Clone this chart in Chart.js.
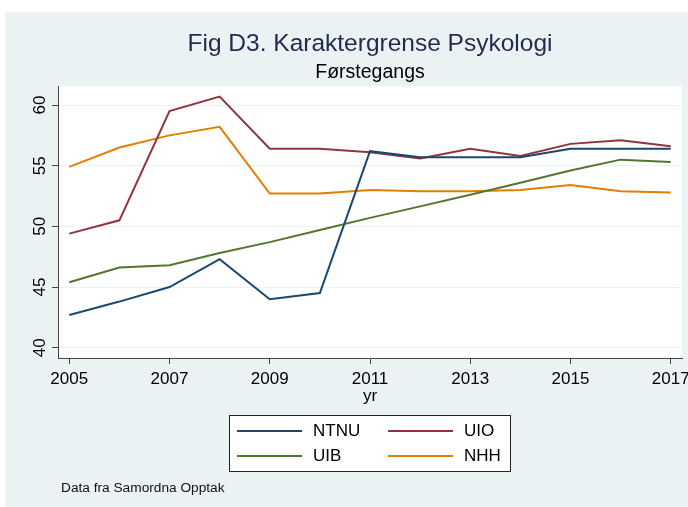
<!DOCTYPE html>
<html>
<head>
<meta charset="utf-8">
<title>Fig D3. Karaktergrense Psykologi</title>
<script src="https://cdn.jsdelivr.net/npm/chart.js@4.4.1/dist/chart.umd.min.js"></script>
<style>
  html, body { margin: 0; padding: 0; background: #ffffff; }
  canvas { display: block; }
</style>
</head>
<body>
<canvas id="chart" width="688" height="507"></canvas>
<script>
// data
const years = [2005, 2006, 2007, 2008, 2009, 2010, 2011, 2012, 2013, 2014, 2015, 2016, 2017];
const ntnu = [42.7, 43.8, 45.0, 47.3, 44.0, 44.5, 56.2, 55.7, 55.7, 55.7, 56.4, 56.4, 56.4];
const uio  = [49.4, 50.5, 59.5, 60.7, 56.4, 56.4, 56.1, 55.6, 56.4, 55.8, 56.8, 57.1, 56.6];
const uib  = [45.4, 46.6, 46.8, 47.8, 48.7, 49.7, 50.7, 51.65, 52.6, 53.6, 54.6, 55.5, 55.3];
const nhh  = [54.9, 56.5, 57.5, 58.2, 52.7, 52.7, 53.0, 52.9, 52.9, 53.0, 53.4, 52.9, 52.8];

const xTicks = [2005, 2007, 2009, 2011, 2013, 2015, 2017];
const yTicks = [40, 45, 50, 55, 60];

const BG = '#eaf2f3';
const FONT = "'Liberation Sans', Arial, sans-serif";
Chart.defaults.font.family = FONT;
Chart.defaults.color = '#000000';

const toPoints = vals => years.map((yr, i) => ({ x: yr, y: vals[i] }));

function series(label, vals, color) {
    return {
        label: label,
        data: toPoints(vals),
        borderColor: color,
        backgroundColor: color,
        borderWidth: 2,
        pointRadius: 0,
        tension: 0
    };
}

// panel background, white plot region, legend box and note
const stataFrame = {
    id: 'stataFrame',
    beforeDraw(chart) {
        const { ctx, chartArea: a } = chart;
        ctx.save();
        ctx.fillStyle = '#ffffff';
        ctx.fillRect(0, 0, chart.width, chart.height);
        ctx.fillStyle = BG;
        ctx.fillRect(5, 12, chart.width - 5, chart.height - 12);
        ctx.fillStyle = '#ffffff';
        ctx.fillRect(a.left, a.top, a.right - a.left, a.bottom - a.top);
        ctx.restore();
    },
    afterDraw(chart) {
        const ctx = chart.ctx;
        ctx.save();
        // legend
        ctx.fillStyle = '#ffffff';
        ctx.fillRect(229.5, 415.5, 281, 56);
        ctx.strokeStyle = '#222222';
        ctx.lineWidth = 1;
        ctx.strokeRect(229.5, 415.5, 281, 56);
        ctx.font = '17px ' + FONT;
        ctx.textBaseline = 'middle';
        chart.data.datasets.forEach((ds, i) => {
            const col = i % 2, row = Math.floor(i / 2);
            const x0 = 237 + col * 151;
            const y = 431 + row * 25;
            ctx.strokeStyle = ds.borderColor;
            ctx.lineWidth = 2;
            ctx.beginPath();
            ctx.moveTo(x0, y);
            ctx.lineTo(x0 + 65, y);
            ctx.stroke();
            ctx.fillStyle = '#000000';
            ctx.fillText(ds.label, x0 + 76, y);
        });
        // source note
        ctx.font = '13.7px ' + FONT;
        ctx.textBaseline = 'alphabetic';
        ctx.fillStyle = '#111111';
        ctx.fillText('Data fra Samordna Opptak', 61, 492);
        ctx.restore();
    }
};

new Chart(document.getElementById('chart'), {
    type: 'line',
    data: {
        datasets: [
            series('NTNU', ntnu, '#1a476f'),
            series('UIO', uio, '#90353b'),
            series('UIB', uib, '#55752f'),
            series('NHH', nhh, '#e37e00')
        ]
    },
    options: {
        responsive: false,
        animation: false,
        layout: { padding: { left: 5, right: 6, top: 0, bottom: 99 } },
        plugins: {
            legend: { display: false },
            tooltip: { enabled: false },
            title: {
                display: true,
                text: 'Fig D3. Karaktergrense Psykologi',
                fullSize: false,
                color: '#1f2c4c',
                font: { size: 24.5, weight: 'normal' },
                padding: { top: 29.5, bottom: 1.9 }
            },
            subtitle: {
                display: true,
                text: 'Førstegangs',
                fullSize: false,
                color: '#000000',
                font: { size: 19.5, weight: 'normal' },
                padding: { top: 0, bottom: 1.8 }
            }
        },
        scales: {
            x: {
                type: 'linear',
                min: 2004.775,
                max: 2017.225,
                afterBuildTicks: s => { s.ticks = xTicks.map(v => ({ value: v })); },
                afterFit: s => { s.height = 50; s.paddingLeft = 0; s.paddingRight = 0; },
                ticks: {
                    font: { size: 17 }, color: '#000000', padding: 5, maxRotation: 0, autoSkip: false,
                    callback: v => String(v)
                },
                grid: { drawOnChartArea: false, tickLength: 6, tickColor: '#444444' },
                border: { color: '#444444', width: 1 },
                title: { display: true, text: 'yr', font: { size: 17 }, color: '#000000', padding: { top: 0, bottom: 1.7 } }
            },
            y: {
                min: 39.15,
                max: 61.57,
                afterBuildTicks: s => { s.ticks = yTicks.map(v => ({ value: v })); },
                afterFit: s => { s.width = 53; s.paddingTop = 0; s.paddingBottom = 0; },
                ticks: { font: { size: 17 }, color: '#000000', padding: 2.5, minRotation: 90, maxRotation: 90, crossAlign: 'center' },
                grid: { color: BG, lineWidth: 1, tickLength: 6, tickColor: '#444444' },
                border: { color: '#444444', width: 1 }
            }
        }
    },
    plugins: [stataFrame]
});
</script>
</body>
</html>
